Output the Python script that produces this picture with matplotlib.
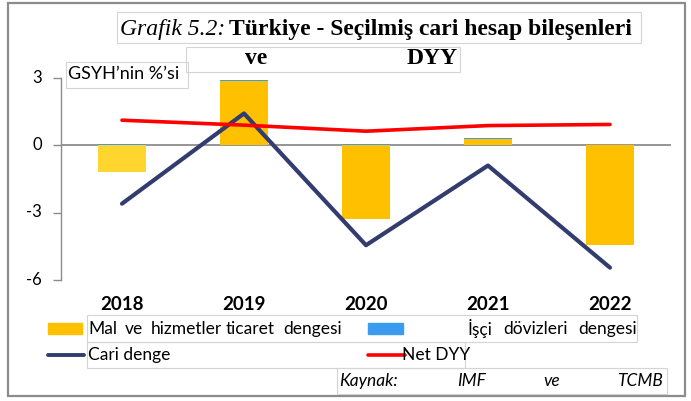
import numpy as np
import matplotlib.pyplot as plt
from matplotlib.patches import Rectangle
from matplotlib.lines import Line2D

# data (GSYH'nin %'si)
years = ['2018', '2019', '2020', '2021', '2022']
mal_hizmet = [-1.2, 2.88, -3.3, 0.27, -4.43]
isci_doviz = [0.04, 0.05, 0.04, 0.06, 0.02]
cari_denge = [-2.6, 1.42, -4.45, -0.9, -5.45]
net_dyy = [1.12, 0.9, 0.63, 0.88, 0.93]
yticks = [3, 0, -3, -6]

W, H = 691, 401
SANS = 'Lato'
SERIF = 'Liberation Serif'
NAVY = '#323C6E'
YELLOW = '#FFC000'
BLUE = '#3A9BEF'
BOXC = '#d4d4d4'


def fx(x):
    return x / W


def fy(y):
    return 1 - y / H


def box(fig, x0, y0, x1, y1):
    fig.patches.append(Rectangle((fx(x0), fy(y1)), fx(x1) - fx(x0), fy(y0) - fy(y1),
                                 transform=fig.transFigure, fill=False,
                                 edgecolor=BOXC, lw=0.8))


fig = plt.figure(figsize=(W / 100, H / 100), dpi=100)

# outer frame
fig.patches.append(Rectangle((fx(8), fy(396)), fx(685) - fx(8), fy(3) - fy(396),
                             transform=fig.transFigure, fill=False,
                             edgecolor='#8c8c8c', lw=1.6))

ax = fig.add_axes([fx(61), fy(280), fx(671) - fx(61), fy(78) - fy(280)])
x = np.arange(len(years))

bar_colors = ['#FFD52E'] + [YELLOW] * 4
ax.bar(x, mal_hizmet, width=0.4, color=bar_colors, zorder=2)
bottoms = [max(v, 0) for v in mal_hizmet]
ax.bar(x, isci_doviz, width=0.4, bottom=bottoms, color=BLUE, zorder=2)
ax.axhline(0, color='#8c8c8c', lw=1.3, zorder=1)
ax.plot(x, cari_denge, color=NAVY, lw=3.0, zorder=3, solid_capstyle='round')
ax.plot(x, net_dyy, color='#FF0000', lw=2.6, zorder=3, solid_capstyle='round')

ax.set_xlim(-0.5, 4.5)
ax.set_ylim(-6, 3)
ax.set_yticks(yticks)
ax.set_yticklabels([])
ax.set_xticks([])
for s in ['top', 'right', 'bottom']:
    ax.spines[s].set_visible(False)
ax.spines['left'].set_color('#8c8c8c')
ax.spines['left'].set_linewidth(1.0)
ax.tick_params(axis='y', length=6, color='#8c8c8c', width=1.0)

# y tick labels
for v in yticks:
    ypx = 145 - v * 22.44
    fig.text(fx(42), fy(ypx), str(v), ha='right', va='center',
             fontsize=12, family=SANS)

# x category labels
for i, yr in enumerate(years):
    fig.text(fx(122 + 122 * i), fy(305), yr, ha='center', va='center',
             fontsize=13.5, family=SANS, fontweight='bold')

# title
box(fig, 117, 12, 641, 43)
fig.text(fx(120), fy(29), 'Grafik 5.2:', ha='left', va='center',
         fontsize=17, family=SERIF, style='italic')
fig.text(fx(229), fy(29), 'Türkiye - Seçilmiş cari hesap bileşenleri',
         ha='left', va='center', fontsize=17, family=SERIF, fontweight='bold')
box(fig, 186, 47, 460, 72)
fig.text(fx(245), fy(59), 've', ha='left', va='center',
         fontsize=17, family=SERIF, fontweight='bold')
fig.text(fx(458), fy(59), 'DYY', ha='right', va='center',
         fontsize=17, family=SERIF, fontweight='bold')

box(fig, 66, 62, 188, 88)
fig.text(fx(68), fy(74), 'GSYH’nin %’si', ha='left', va='center',
         fontsize=13, family=SANS)

# legend
fig.patches.append(Rectangle((fx(48), fy(334)), fx(82) - fx(48), fy(323) - fy(334),
                             transform=fig.transFigure, color=YELLOW))
fig.patches.append(Rectangle((fx(368), fy(334)), fx(403) - fx(368), fy(323) - fy(334),
                             transform=fig.transFigure, color=BLUE))
fig.lines.append(Line2D([fx(48), fx(84)], [fy(355), fy(355)], transform=fig.transFigure,
                        color=NAVY, lw=2.8, solid_capstyle='round'))
fig.lines.append(Line2D([fx(368), fx(405)], [fy(355), fy(355)], transform=fig.transFigure,
                        color='#FF0000', lw=2.6, solid_capstyle='round'))

box(fig, 87, 315, 637, 342)
mal_words = [('Mal', 88), ('ve', 125), ('hizmetler', 151), ('ticaret', 226), ('dengesi', 283)]
for word, xp in mal_words:
    fig.text(fx(xp), fy(329), word, ha='left', va='center', fontsize=12.5, family=SANS)
for word, xp in [('İşçi', 468), ('dövizleri', 503), ('dengesi', 578)]:
    fig.text(fx(xp), fy(329), word, ha='left', va='center', fontsize=12.5, family=SANS)

box(fig, 87, 342, 465, 368)
fig.text(fx(88), fy(355), 'Cari denge', ha='left', va='center',
         fontsize=12.5, family=SANS)
fig.text(fx(402), fy(355), 'Net DYY', ha='left', va='center',
         fontsize=12.5, family=SANS)

box(fig, 337, 368, 667, 394)
for word, xp in [('Kaynak:', 339), ('IMF', 457), ('ve', 543), ('TCMB', 617)]:
    fig.text(fx(xp), fy(381), word, ha='left', va='center', fontsize=12.5,
             family=SANS, style='italic')

plt.savefig('out.png', dpi=100)
